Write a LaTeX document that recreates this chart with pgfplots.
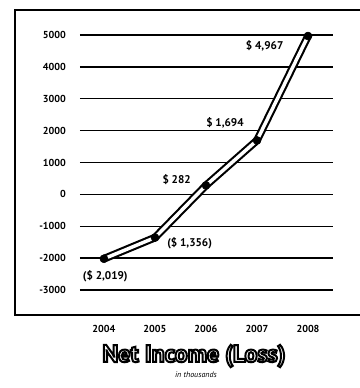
\documentclass[border=0pt]{standalone}
\usepackage{pgfplots}
\pgfplotsset{compat=1.18}
\usepackage{pgfplotstable}
\usepackage{fontspec}
\setmainfont{PT Sans}

% filled and stroked glyphs (PDF text render mode 2)
\newcommand{\outlinedtext}[1]{%
  \textcolor{white}{\special{pdf:code 2 Tr 1.5 w 0 0 0 RG}#1\special{pdf:code 0 Tr}}}

\pgfplotstableread{
idx year income
0 2004 -2019
1 2005 -1356
2 2006 282
3 2007 1694
4 2008 4967
}\incometable

\begin{document}
\begin{tikzpicture}
\begin{axis}[
  scale only axis,
  width=189.75pt, height=191.25pt,
  xmin=-0.47, xmax=4.49,
  ymin=-3000, ymax=5000,
  axis line style={draw=none},
  major tick length=0pt,
  xtick={0,1,2,3,4},
  xticklabels={2004,2005,2006,2007,2008},
  ytick={-3000,-2000,-1000,0,1000,2000,3000,4000,5000},
  yticklabels={-3000,-2000,-1000,0,1000,2000,3000,4000,5000},
  ticklabel style={font=\bfseries\fontsize{7.6}{8}\selectfont},
  yticklabel style={xshift=-7pt},
  xticklabel style={yshift=-23pt},
  clip=false,
]
  % horizontal rules behind the series
  \pgfplotsinvokeforeach{-3000,-2000,-1000,0,1000,2000,3000,4000,5000}{
    \draw[black, line width=1.1pt] (axis cs:-0.47,#1) -- (axis cs:4.49,#1);
  }
  % outer frame
  \draw[black, line width=1pt]
    (rel axis cs:1.2,1.098) -- (rel axis cs:-0.2569,1.098)
    -- (rel axis cs:-0.2569,-0.098) -- (rel axis cs:1.2,-0.098);

  % outlined ribbon: black casing, white core, then the dots
  \addplot[black, line width=5.8pt, line cap=round, line join=round, no marks]
    table[x=idx, y=income] {\incometable};
  \addplot[white, line width=2.6pt, line cap=round, line join=round, no marks]
    table[x=idx, y=income] {\incometable};
  \addplot[only marks, mark=*, mark size=3pt, black, mark options={fill=black}]
    table[x=idx, y=income] {\incometable};

  % value labels
  \begin{scope}[every node/.style={font=\bfseries\fontsize{8.4}{9}\selectfont, inner sep=0pt}]
    \node at (axis cs:4,4967) [xshift=-32.5pt, yshift=-7.5pt] {\$ 4,967};
    \node at (axis cs:3,1694) [xshift=-24pt, yshift=13pt] {\$ 1,694};
    \node at (axis cs:2,282) [xshift=-22pt, yshift=4.5pt] {\$ 282};
    \node at (axis cs:1,-1356) [xshift=26pt, yshift=-4.5pt] {(\$ 1,356)};
    \node at (axis cs:0,-2019) [xshift=1pt, yshift=-13.5pt] {(\$ 2,019)};
  \end{scope}

  % caption
  \node at (rel axis cs:0.4506,-0.2588)
    {\bfseries\fontsize{18}{19}\selectfont\outlinedtext{Net Income (Loss)}};
  \node at (rel axis cs:0.4585,-0.3333)
    {\itshape\fontsize{6}{7}\selectfont in thousands};

  \coordinate (bbsw) at (rel axis cs:-0.3162,-0.3843);
  \coordinate (bbne) at (rel axis cs:1.1067,1.1373);
\end{axis}
\pgfresetboundingbox
\useasboundingbox (bbsw) rectangle (bbne);
\end{tikzpicture}
\end{document}
